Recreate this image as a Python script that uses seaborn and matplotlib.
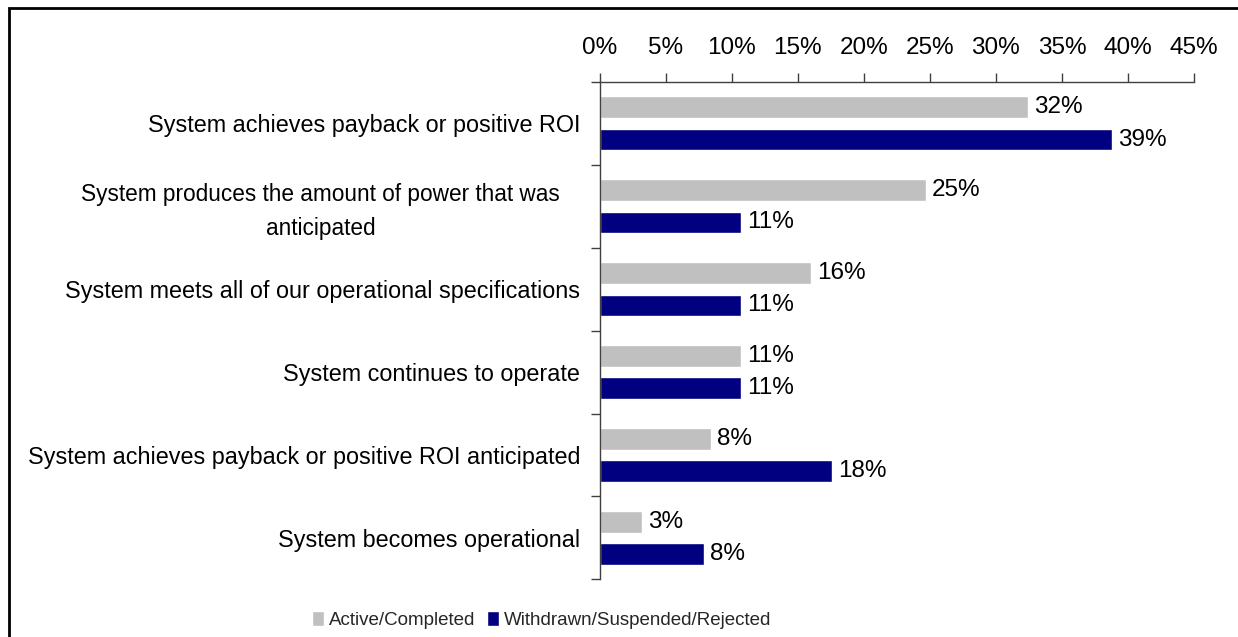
import numpy as np
import pandas as pd
import seaborn as sns
import matplotlib.pyplot as plt
from matplotlib.patches import Rectangle
from matplotlib.transforms import ScaledTranslation
from matplotlib.ticker import PercentFormatter

# data
categories = [
    "System achieves payback or positive ROI",
    "System produces the amount of power that was\nanticipated",
    "System meets all of our operational specifications",
    "System continues to operate",
    "System achieves payback or positive ROI anticipated",
    "System becomes operational",
]
series = ["Active/Completed", "Withdrawn/Suspended/Rejected"]
active = [32.4, 24.7, 16.0, 10.7, 8.4, 3.2]
withdrawn = [38.8, 10.7, 10.7, 10.7, 17.6, 7.9]
active_labels = ["32%", "25%", "16%", "11%", "8%", "3%"]
withdrawn_labels = ["39%", "11%", "11%", "11%", "18%", "8%"]
x_ticks = [0, 5, 10, 15, 20, 25, 30, 35, 40, 45]

df = pd.DataFrame({
    "category": categories * 2,
    "status": [series[0]] * len(categories) + [series[1]] * len(categories),
    "value": active + withdrawn,
})

sns.set_theme(style="white")
plt.rcParams["font.family"] = ["Liberation Sans", "DejaVu Sans"]
FS_CAT = 16.8
FS_NUM = 17.5
FS_LEG = 13.5

fig = plt.figure(figsize=(12.38, 6.37), dpi=100)
ax = fig.add_axes([0.4843, 0.0906, 0.4802, 0.7807])

sns.barplot(data=df, y="category", x="value", hue="status", orient="h",
            palette=["#C0C0C0", "#000080"], width=0.78, gap=0.33,
            saturation=1, ax=ax)

for cont, labs in zip(ax.containers, [active_labels, withdrawn_labels]):
    ax.bar_label(cont, labels=labs, padding=4.5, fontsize=FS_NUM, color="black")

# x axis on top
ax.set_xlim(0, 45)
ax.xaxis.tick_top()
ax.set_xticks(x_ticks)
ax.xaxis.set_major_formatter(PercentFormatter(decimals=0))
ax.tick_params(axis="x", which="major", direction="out", length=6.3, width=1,
               color="#404040", labelsize=FS_NUM, pad=10, top=True,
               bottom=False, labelcolor="black")
ax.set_xlabel("")
ax.set_ylabel("")

# y ticks at category boundaries, labels at centres
n = len(categories)
ax.set_ylim(n - 0.5, -0.5)
ax.set_yticks(np.arange(-0.5, n, 1), labels=[""] * (n + 1))
ax.set_yticks(range(n), labels=categories, minor=True)
ax.tick_params(axis="y", which="major", direction="out", length=6.5, width=1,
               color="#404040", left=True)
ax.tick_params(axis="y", which="minor", length=0, labelsize=FS_CAT, pad=14,
               labelcolor="black")
for lbl in ax.get_yticklabels(minor=True):
    if "\n" in lbl.get_text():
        lbl.set_fontsize(16.3)
        lbl.set_multialignment("center")
        lbl.set_linespacing(1.6)
        lbl.set_transform(lbl.get_transform()
                          + ScaledTranslation(-0.2, 0.025, fig.dpi_scale_trans))

for side in ["right", "bottom"]:
    ax.spines[side].set_visible(False)
for side in ["left", "top"]:
    ax.spines[side].set_color("#404040")
    ax.spines[side].set_linewidth(1)
ax.grid(False)

handles, labels = ax.get_legend_handles_labels()
ax.get_legend().remove()
fig.legend(handles, labels, loc="center", bbox_to_anchor=(0.4374, 0.0267),
           ncol=2, frameon=False, fontsize=FS_LEG, handlelength=0.64,
           handleheight=0.85, handletextpad=0.27, columnspacing=0.64,
           borderaxespad=0)

# outer border of the chart area
fig.patches.append(Rectangle((9 / 1238, -0.05), 1.0, 1.05 - 8 / 637,
                             transform=fig.transFigure, fill=False,
                             edgecolor="black", linewidth=2))

fig.savefig("out.png", dpi=100)
